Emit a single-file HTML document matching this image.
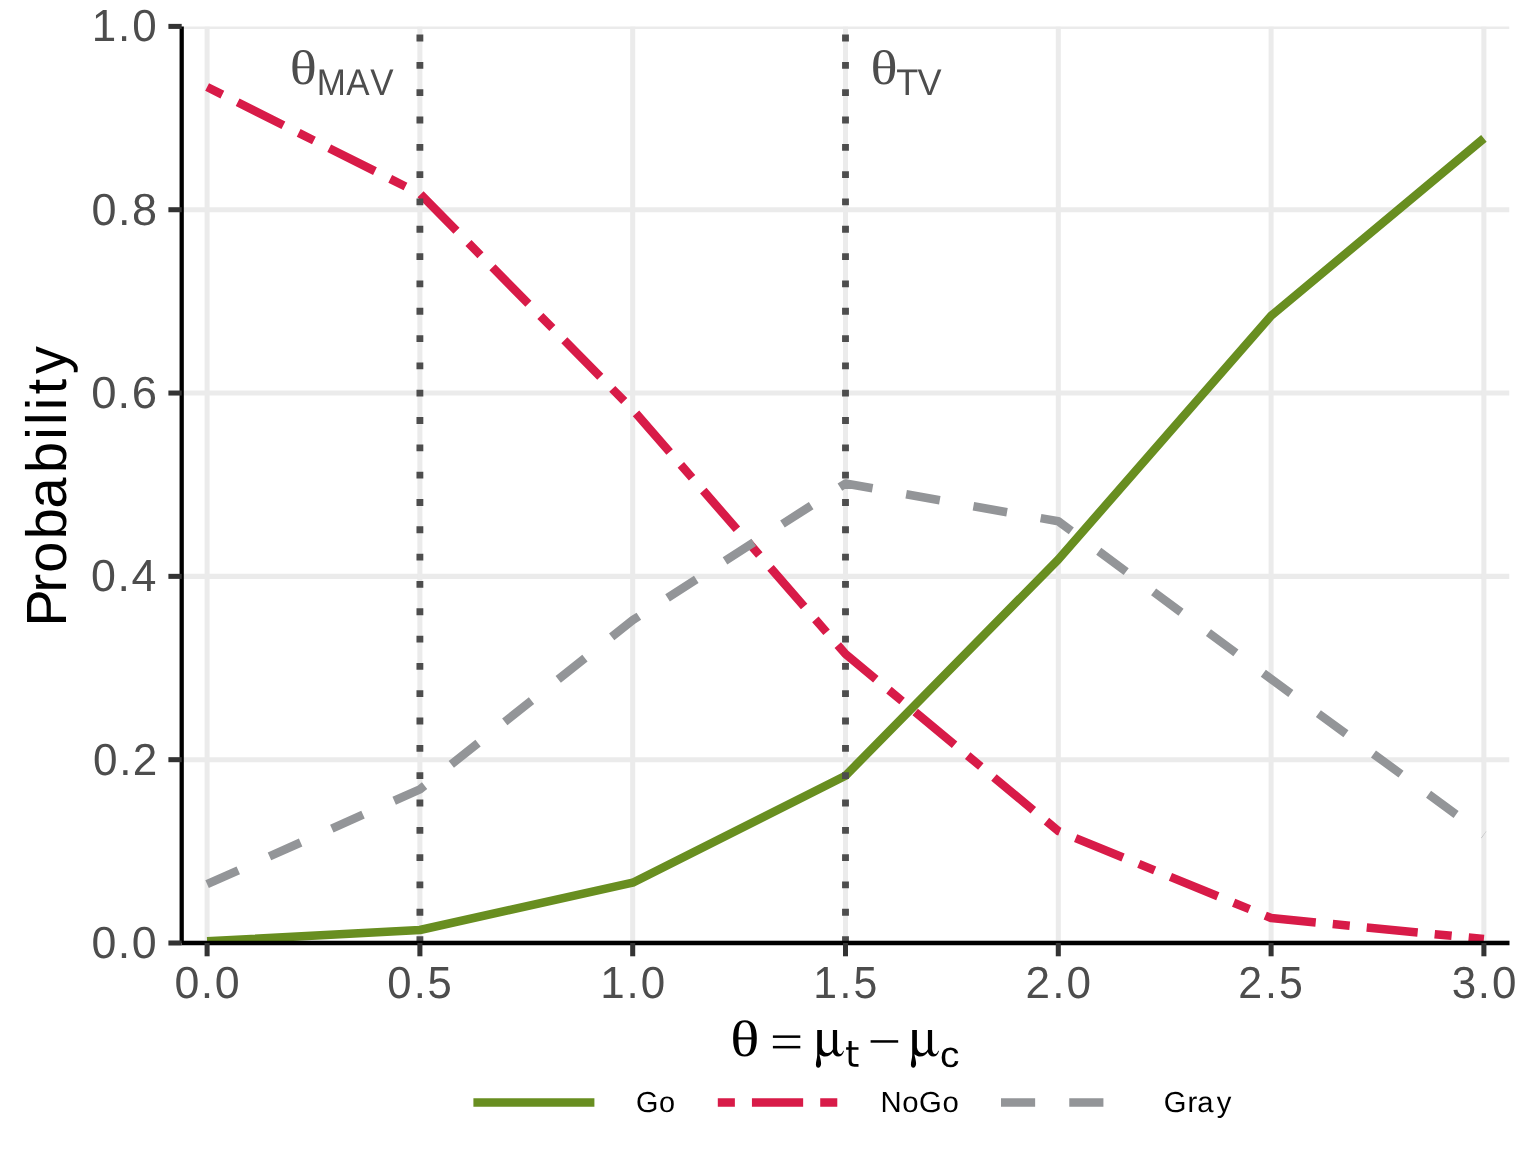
<!DOCTYPE html><html><head><meta charset="utf-8"><style>html,body{margin:0;padding:0;background:#fff;width:1536px;height:1152px;overflow:hidden}svg{display:block;will-change:transform}text{font-kerning:none;text-rendering:geometricPrecision}</style></head><body>
<svg width="1536" height="1152" viewBox="0 0 1536 1152">
<rect width="1536" height="1152" fill="#fff"/>
<defs><clipPath id="pc"><rect x="181.7" y="26.4" width="1327.8" height="916.6"/></clipPath></defs>
<g clip-path="url(#pc)" stroke="#EBEBEB" stroke-width="5.04" fill="none">
<line x1="181.7" y1="943" x2="1509.5" y2="943"/>
<line x1="181.7" y1="759.68" x2="1509.5" y2="759.68"/>
<line x1="181.7" y1="576.36" x2="1509.5" y2="576.36"/>
<line x1="181.7" y1="393.04" x2="1509.5" y2="393.04"/>
<line x1="181.7" y1="209.72" x2="1509.5" y2="209.72"/>
<line x1="181.7" y1="26.4" x2="1509.5" y2="26.4"/>
<line x1="207.1" y1="26.4" x2="207.1" y2="943"/>
<line x1="419.9" y1="26.4" x2="419.9" y2="943"/>
<line x1="632.7" y1="26.4" x2="632.7" y2="943"/>
<line x1="845.5" y1="26.4" x2="845.5" y2="943"/>
<line x1="1058.3" y1="26.4" x2="1058.3" y2="943"/>
<line x1="1271.1" y1="26.4" x2="1271.1" y2="943"/>
<line x1="1483.9" y1="26.4" x2="1483.9" y2="943"/>
</g>
<g clip-path="url(#pc)" fill="none" stroke-width="8.535" stroke-linejoin="round" stroke-linecap="butt">
<polyline points="207.1,941.3 419.9,930 632.7,882.7 845.5,775.7 1058.3,559.5 1271.1,315.8 1483.9,138.4" stroke="#688E20"/>
<polyline points="207.1,87 419.9,193.7 632.7,409.6 845.5,654 1058.3,831 1271.1,918 1483.9,939" stroke="#D81B48" stroke-dasharray="17.07 17.07 51.21 17.07"/>
<polyline points="207.1,884.2 419.9,789.3 632.7,620.2 845.5,483.5 1058.3,521.3 1271.1,679 1483.9,834.8" stroke="#939598" stroke-dasharray="34.14 34.14"/>
<line x1="419.9" y1="943" x2="419.9" y2="26.4" stroke="#4D4D4D" stroke-width="6.83" stroke-dasharray="6.83 20.49"/>
<line x1="845.5" y1="943" x2="845.5" y2="26.4" stroke="#4D4D4D" stroke-width="6.83" stroke-dasharray="6.83 20.49"/>
</g>
<g stroke="#000" stroke-width="4.27"><line x1="181.7" y1="26.4" x2="181.7" y2="943"/><line x1="181.7" y1="943" x2="1509.5" y2="943"/></g>
<g stroke="#333333" stroke-width="5.04">
<line x1="168.4" y1="943" x2="181.7" y2="943"/>
<line x1="168.4" y1="759.68" x2="181.7" y2="759.68"/>
<line x1="168.4" y1="576.36" x2="181.7" y2="576.36"/>
<line x1="168.4" y1="393.04" x2="181.7" y2="393.04"/>
<line x1="168.4" y1="209.72" x2="181.7" y2="209.72"/>
<line x1="168.4" y1="26.4" x2="181.7" y2="26.4"/>
<line x1="207.1" y1="943" x2="207.1" y2="956.3"/>
<line x1="419.9" y1="943" x2="419.9" y2="956.3"/>
<line x1="632.7" y1="943" x2="632.7" y2="956.3"/>
<line x1="845.5" y1="943" x2="845.5" y2="956.3"/>
<line x1="1058.3" y1="943" x2="1058.3" y2="956.3"/>
<line x1="1271.1" y1="943" x2="1271.1" y2="956.3"/>
<line x1="1483.9" y1="943" x2="1483.9" y2="956.3"/>
</g>
<text transform="matrix(0.99721 0 0 1 0 957.850)" x="91.69 118.19 132.20" y="0" font-family="'Liberation Sans', sans-serif" font-size="44.928" fill="#4D4D4D">0.0</text>
<text transform="matrix(0.98136 0 0 1 0 774.530)" x="94.65 121.65 135.22" y="0" font-family="'Liberation Sans', sans-serif" font-size="44.928" fill="#4D4D4D">0.2</text>
<text transform="matrix(0.99721 0 0 1 0 591.210)" x="91.25 117.75 131.76" y="0" font-family="'Liberation Sans', sans-serif" font-size="44.928" fill="#4D4D4D">0.4</text>
<text transform="matrix(1.01277 0 0 1 0 407.890)" x="90.11 116.13 130.03" y="0" font-family="'Liberation Sans', sans-serif" font-size="44.928" fill="#4D4D4D">0.6</text>
<text transform="matrix(1.00209 0 0 1 0 224.570)" x="91.31 117.66 131.64" y="0" font-family="'Liberation Sans', sans-serif" font-size="44.928" fill="#4D4D4D">0.8</text>
<text transform="matrix(0.97815 0 0 1 0 41.250)" x="93.74 120.61 135.23" y="0" font-family="'Liberation Sans', sans-serif" font-size="44.928" fill="#4D4D4D">1.0</text>
<text transform="matrix(0.99721 0 0 1 0 997.600)" x="174.92 201.42 215.43" y="0" font-family="'Liberation Sans', sans-serif" font-size="44.928" fill="#4D4D4D">0.0</text>
<text transform="matrix(0.97190 0 0 1 0 997.600)" x="398.47 425.78 439.82" y="0" font-family="'Liberation Sans', sans-serif" font-size="44.928" fill="#4D4D4D">0.5</text>
<text transform="matrix(0.97815 0 0 1 0 997.600)" x="613.71 640.57 655.19" y="0" font-family="'Liberation Sans', sans-serif" font-size="44.928" fill="#4D4D4D">1.0</text>
<text transform="matrix(0.95157 0 0 1 0 997.600)" x="854.58 882.27 896.97" y="0" font-family="'Liberation Sans', sans-serif" font-size="44.928" fill="#4D4D4D">1.5</text>
<text transform="matrix(0.98136 0 0 1 0 997.600)" x="1044.95 1072.14 1086.65" y="0" font-family="'Liberation Sans', sans-serif" font-size="44.928" fill="#4D4D4D">2.0</text>
<text transform="matrix(0.95543 0 0 1 0 997.600)" x="1296.10 1324.14 1338.71" y="0" font-family="'Liberation Sans', sans-serif" font-size="44.928" fill="#4D4D4D">2.5</text>
<text transform="matrix(0.97938 0 0 1 0 997.600)" x="1482.31 1508.89 1523.47" y="0" font-family="'Liberation Sans', sans-serif" font-size="44.928" fill="#4D4D4D">3.0</text>
<g transform="translate(66.1 622) rotate(-90)"><text transform="matrix(0.98580 0 0 1 0 0.000)" x="-4.65 29.85 50.04 83.93 115.15 151.10 184.83 199.76 214.75 231.04 251.64" y="0" font-family="'Liberation Sans', sans-serif" font-size="56.687" fill="#000">Probability</text></g>
<text transform="matrix(0.60824 0 0 0.51200 730.349 1056.000)" font-family="'Liberation Serif', serif" font-size="100" fill="#000">θ</text>
<rect x="772.9" y="1035.4" width="27.4" height="2.5" fill="#000"/>
<rect x="772.9" y="1045.9" width="27.4" height="2.5" fill="#000"/>
<path d="M 817.2 1030.1 L 821.9 1030.1 L 821.9 1047.5 C 822.4 1051.0 824.6 1053.0 827.4 1053.0 C 829.9 1053.0 831.8 1051.3 832.9 1049.2 L 832.9 1030.1 L 837.1 1030.1 L 837.1 1049.2 C 837.4 1052.0 838.6 1054.0 840.2 1054.0 C 841.5 1054.0 842.6 1052.6 843.2 1050.6 L 843.9 1051.2 C 843.0 1054.4 841.0 1056.6 838.2 1056.6 C 835.6 1056.6 833.5 1054.7 832.8 1052.0 C 831.3 1054.6 828.6 1056.5 825.0 1056.5 C 823.4 1056.5 821.6 1055.8 819.4 1054.2 C 819.9 1056.8 821.1 1060.5 821.1 1063.5 C 821.1 1066.0 819.8 1067.8 818.3 1067.8 C 816.9 1067.8 815.9 1066.5 815.9 1064.5 C 815.9 1061.5 817.2 1058.5 817.2 1055.0 Z" fill="#000"/>
<path d="M 848.6 1041.0 L 851.7 1041.0 L 851.7 1047.2 L 858.5 1047.2 L 858.5 1049.7 L 851.7 1049.7 L 851.7 1060.6 C 851.7 1063.0 852.6 1064.0 854.8 1064.0 L 858.5 1064.0 L 858.5 1066.7 L 854.4 1066.7 C 850.2 1066.7 848.6 1064.8 848.6 1060.6 L 848.6 1049.7 L 846.1 1049.7 L 846.1 1047.2 L 848.6 1047.2 Z" fill="#000"/>
<rect x="870.6" y="1040.2" width="27.6" height="2.5" fill="#000"/>
<path transform="translate(95 0)" d="M 817.2 1030.1 L 821.9 1030.1 L 821.9 1047.5 C 822.4 1051.0 824.6 1053.0 827.4 1053.0 C 829.9 1053.0 831.8 1051.3 832.9 1049.2 L 832.9 1030.1 L 837.1 1030.1 L 837.1 1049.2 C 837.4 1052.0 838.6 1054.0 840.2 1054.0 C 841.5 1054.0 842.6 1052.6 843.2 1050.6 L 843.9 1051.2 C 843.0 1054.4 841.0 1056.6 838.2 1056.6 C 835.6 1056.6 833.5 1054.7 832.8 1052.0 C 831.3 1054.6 828.6 1056.5 825.0 1056.5 C 823.4 1056.5 821.6 1055.8 819.4 1054.2 C 819.9 1056.8 821.1 1060.5 821.1 1063.5 C 821.1 1066.0 819.8 1067.8 818.3 1067.8 C 816.9 1067.8 815.9 1066.5 815.9 1064.5 C 815.9 1061.5 817.2 1058.5 817.2 1055.0 Z" fill="#000"/>
<text transform="matrix(0.38733 0 0 0.36324 940.055 1066.545)" font-family="'Liberation Sans', sans-serif" font-size="100" fill="#000">c</text>
<text transform="matrix(0.56461 0 0 0.48520 289.653 83.926)" font-family="'Liberation Serif', serif" font-size="100" fill="#4D4D4D">θ</text>
<text transform="matrix(0.93951 0 0 1 0 94.800)" x="337.13 368.68 394.08" y="0" font-family="'Liberation Sans', sans-serif" font-size="37.210" fill="#4D4D4D">MAV</text>
<text transform="matrix(0.56461 0 0 0.48520 870.553 83.926)" font-family="'Liberation Serif', serif" font-size="100" fill="#4D4D4D">θ</text>
<text transform="matrix(0.96927 0 0 1 0 94.800)" x="924.60 946.48" y="0" font-family="'Liberation Sans', sans-serif" font-size="37.210" fill="#4D4D4D">TV</text>
<g fill="none" stroke-width="8.535" stroke-linecap="butt">
<line x1="473.4" y1="1102.4" x2="594.4" y2="1102.4" stroke="#688E20"/>
<line x1="717.8" y1="1102.4" x2="838.8" y2="1102.4" stroke="#D81B48" stroke-dasharray="17.07 17.07 51.21 17.07"/>
<line x1="1001.0" y1="1102.4" x2="1122.0" y2="1102.4" stroke="#939598" stroke-dasharray="34.14 34.14"/>
</g>
<text transform="matrix(0.99307 0 0 1 0 1111.900)" x="640.39 663.49" y="0" font-family="'Liberation Sans', sans-serif" font-size="28.998" fill="#000">Go</text>
<text transform="matrix(1.01006 0 0 1 0 1111.950)" x="871.73 893.30 909.84 933.16" y="0" font-family="'Liberation Sans', sans-serif" font-size="28.998" fill="#000">NoGo</text>
<text transform="matrix(1.00775 0 0 1 0 1111.950)" x="1154.78 1178.25 1187.94 1207.29" y="0" font-family="'Liberation Sans', sans-serif" font-size="28.998" fill="#000">Gray</text>
</svg></body></html>
